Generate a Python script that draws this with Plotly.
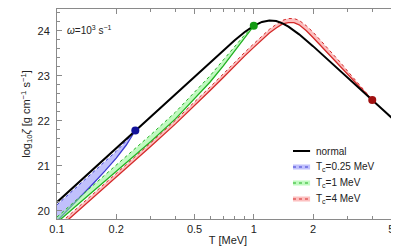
import plotly.graph_objects as go

# ---- data ----
T_normal = [0.1, 0.15, 0.2, 0.25, 0.3, 0.4, 0.5, 0.6, 0.7, 0.8, 0.9, 1.0, 1.1, 1.2,
            1.3, 1.4, 1.5, 1.7, 2.0, 2.5, 3.0, 3.5, 4.0, 4.5, 5.0, 5.5]
z_normal = [20.19, 20.895, 21.394, 21.782, 22.099, 22.599, 22.986, 23.302, 23.566,
            23.788, 23.970, 24.108, 24.195, 24.228, 24.214, 24.163, 24.091, 23.919,
            23.657, 23.277, 22.961, 22.693, 22.461, 22.257, 22.073, 21.908]

T_b = [0.1, 0.125, 0.15, 0.175, 0.2, 0.225, 0.25]
zb_low = [19.77, 20.20, 20.565, 20.88, 21.17, 21.46, 21.782]
zb_up = [20.13, 20.51, 20.82, 21.08, 21.32, 21.55, 21.782]

T_g = [0.1, 0.15, 0.2, 0.3, 0.4, 0.5, 0.6, 0.7, 0.8, 0.9, 1.0]
zg_low = [19.74, 20.40, 20.87, 21.54, 22.04, 22.48, 22.86, 23.22, 23.55, 23.85, 24.108]
zg_up = [19.86, 20.53, 21.01, 21.69, 22.19, 22.63, 23.00, 23.35, 23.65, 23.91, 24.108]

T_r = [0.1, 0.15, 0.2, 0.3, 0.4, 0.5, 0.6, 0.7, 0.8, 0.9, 1.0, 1.1, 1.2, 1.3, 1.4,
       1.5, 1.6, 1.7, 1.85, 2.0, 2.25, 2.5, 2.75, 3.0, 3.25, 3.5, 3.75, 4.0]
zr_low = [19.58, 20.26, 20.74, 21.43, 21.93, 22.33, 22.67, 22.96, 23.22, 23.44, 23.63,
          23.80, 23.95, 24.06, 24.15, 24.18, 24.18, 24.13, 24.00, 23.85, 23.61, 23.39,
          23.20, 23.02, 22.87, 22.72, 22.59, 22.461]
zr_up = [19.66, 20.34, 20.82, 21.51, 22.01, 22.41, 22.75, 23.04, 23.30, 23.52, 23.71,
         23.88, 24.03, 24.14, 24.23, 24.27, 24.27, 24.23, 24.11, 23.97, 23.73, 23.50,
         23.30, 23.10, 22.93, 22.76, 22.61, 22.461]

Tc_vals = [0.25, 1.0, 4.0]
z_dots = [21.782, 24.108, 22.461]

x_ticks = [0.1, 0.2, 0.5, 1, 2, 5]
x_ticklabels = ["0.1", "0.2", "0.5", "1", "2", "5"]
x_minor = [0.3, 0.4, 0.6, 0.7, 0.8, 0.9, 3, 4]
y_ticks = [20, 21, 22, 23, 24]

legend_names = ["normal", "T<sub>c</sub>=0.25 MeV", "T<sub>c</sub>=1 MeV", "T<sub>c</sub>=4 MeV"]
line_cols = ["#3a3ad0", "#22b022", "#d42a2a"]
fill_cols = ["rgba(140,140,250,0.55)", "rgba(140,245,140,0.55)", "rgba(250,140,140,0.55)"]
dot_cols = ["#12129a", "#139a13", "#a01010"]

fig = go.Figure()

bands = [(T_b, zb_low, zb_up), (T_g, zg_low, zg_up), (T_r, zr_low, zr_up)]
for i, (T, lo, up) in enumerate(bands):
    fig.add_trace(go.Scatter(x=T, y=lo, mode="lines", line=dict(color=line_cols[i], width=1.3),
                             showlegend=False, hoverinfo="skip"))
    fig.add_trace(go.Scatter(x=T, y=up, mode="lines", fill="tonexty", fillcolor=fill_cols[i],
                             line=dict(color=line_cols[i], width=1, dash="dot"),
                             showlegend=False))

fig.add_trace(go.Scatter(x=T_normal, y=z_normal, mode="lines", line=dict(color="black", width=2),
                         showlegend=False))

fig.add_trace(go.Scatter(x=Tc_vals, y=z_dots, mode="markers",
                         marker=dict(color=dot_cols, size=8), showlegend=False))

axis_common = dict(showline=True, linecolor="#8a8a8a", linewidth=1, mirror="ticks",
                   ticks="inside", tickcolor="#8a8a8a", ticklen=5, showgrid=False,
                   zeroline=False, tickfont=dict(size=11, color="#222"))

fig.update_xaxes(type="log", range=[-1, 0.738], tickvals=x_ticks, ticktext=x_ticklabels,
                 minor=dict(tickvals=x_minor, ticks="inside", ticklen=3, tickcolor="#8a8a8a"),
                 title=dict(text="T [MeV]", font=dict(size=11, color="#222"), standoff=2),
                 **axis_common)
fig.update_yaxes(range=[19.816, 24.482], tickvals=y_ticks,
                 minor=dict(dtick=0.2, ticks="inside", ticklen=3, tickcolor="#8a8a8a"),
                 title=dict(text="log<sub>10</sub><i>ζ</i> [g cm<sup>−1</sup> s<sup>−1</sup>]",
                            font=dict(size=11, color="#222"), standoff=4),
                 ticklabelstandoff=4,
                 **axis_common)

fig.add_annotation(x=0.022, y=0.9, xref="paper", yref="paper", xanchor="left", yanchor="middle",
                   text="<i>ω</i>=10<sup>3</sup> s<sup>−1</sup>", showarrow=False,
                   font=dict(size=10, color="#222"))

# ---- hand-drawn legend (positions in paper fractions) ----
lx0, lx1, ltx = 0.690, 0.740, 0.7515
row_y = [0.3238, 0.2476, 0.1714, 0.0952]
hh = 0.012
fig.add_shape(type="line", xref="paper", yref="paper", x0=lx0, x1=lx1, y0=row_y[0], y1=row_y[0],
              line=dict(color="black", width=2))
for i in range(3):
    y = row_y[i + 1]
    fig.add_shape(type="rect", xref="paper", yref="paper", x0=lx0, x1=lx1, y0=y - hh, y1=y + hh,
                  fillcolor=fill_cols[i], line=dict(width=0))
    fig.add_shape(type="line", xref="paper", yref="paper", x0=lx0, x1=lx1, y0=y, y1=y,
                  line=dict(color=line_cols[i], width=1, dash="dot"))
for i, nm in enumerate(legend_names):
    fig.add_annotation(x=ltx, y=row_y[i], xref="paper", yref="paper", xanchor="left",
                       yanchor="middle", text=nm, showarrow=False,
                       font=dict(size=10, color="#222"))

fig.update_layout(
    width=399, height=247,
    margin=dict(l=49, r=8, t=1, b=36),
    paper_bgcolor="white", plot_bgcolor="white",
    font=dict(family="Liberation Sans, Arial, sans-serif", color="#222"),
    showlegend=False,
)

fig.write_html("out.html")
